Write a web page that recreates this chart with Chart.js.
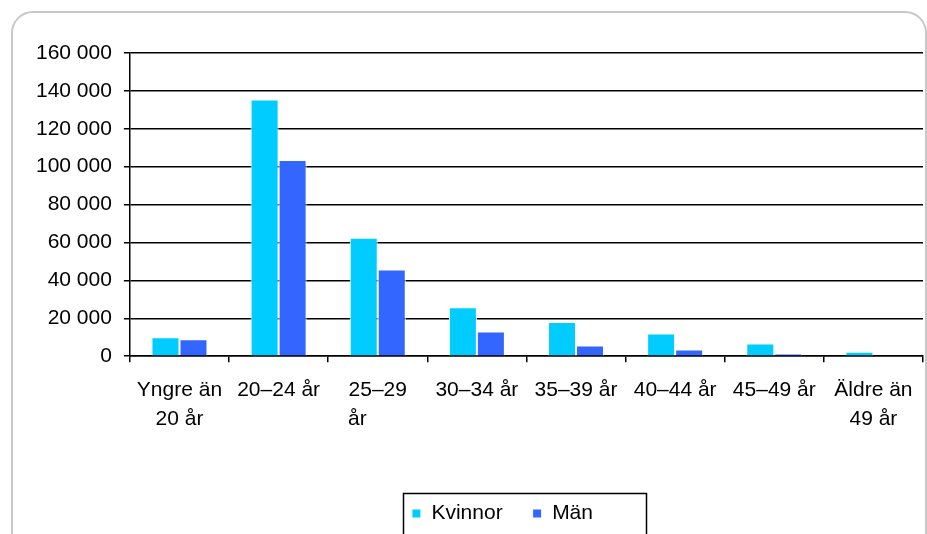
<!DOCTYPE html>
<html>
<head>
<meta charset="utf-8">
<script src="https://cdn.jsdelivr.net/npm/chart.js@4/dist/chart.umd.min.js"></script>
<style>
  html, body { margin: 0; padding: 0; background: #fff; overflow: hidden; }
  #frame {
    position: absolute; left: 11px; top: 11px; width: 916px; height: 600px;
    border: 2px solid #c8c8c8; border-radius: 22px; box-sizing: border-box;
  }
  #wrap { position: absolute; left: 0; top: 0; width: 927px; height: 534px; }
</style>
</head>
<body>
<div id="frame"></div>
<div id="wrap"><canvas id="agechart" width="927" height="534"></canvas></div>
<script>
// Age groups
var categories = [
    ["Yngre än", "20 år"],
    "20–24 år",
    ["25–29", "år       "],
    "30–34 år",
    "35–39 år",
    "40–44 år",
    "45–49 år",
    ["Äldre än", "49 år"]
];
var kvinnor = [10000, 135400, 62500, 25800, 18000, 12000, 6700, 2300];
var man = [9000, 103600, 45700, 13000, 5600, 3500, 1400, 0];
var yTicks = [0, 20000, 40000, 60000, 80000, 100000, 120000, 140000, 160000];

var FONT = "'Liberation Sans', Arial, sans-serif";

function spaced(v) {
    return String(v).replace(/\B(?=(\d{3})+(?!\d))/g, ' ');
}

// Excel puts the legend items left in a box centred under the plot
var legendShift = {
    id: 'legendShift',
    afterLayout: function (chart) {
        chart.legend.left -= 24;
        chart.legend.right -= 24;
    }
};

// frame around the legend
var legendFrame = {
    id: 'legendFrame',
    afterDraw: function (chart) {
        var boxes = chart.legend.legendHitBoxes;
        if (!boxes || !boxes.length) return;
        var first = boxes[0];
        var ctx = chart.ctx;
        var cy = first.top + first.height / 2;
        ctx.save();
        ctx.strokeStyle = '#000';
        ctx.lineWidth = 1.5;
        ctx.strokeRect(Math.round(first.left - 9) + 0.5, Math.round(cy - 21) + 0.5, 243, 80);
        ctx.restore();
    }
};

var ctx = document.getElementById('agechart').getContext('2d');
var chart = new Chart(ctx, {
    type: 'bar',
    data: {
        labels: categories,
        datasets: [{
            label: "Kvinnor",
            data: kvinnor,
            backgroundColor: '#00ccff',
            borderColor: '#ffffff',
            borderWidth: 1,
            borderSkipped: 'bottom'
        }, {
            label: "Män",
            data: man,
            backgroundColor: '#3366ff',
            borderColor: '#ffffff',
            borderWidth: 1,
            borderSkipped: 'bottom'
        }]
    },
    options: {
        responsive: false,
        animation: false,
        layout: {
            padding: { left: 24, right: 4, top: 53, bottom: 0 }
        },
        datasets: {
            bar: { categoryPercentage: 0.565, barPercentage: 1 }
        },
        scales: {
            x: {
                afterFit: function (scale) { scale.height += 26; },
                grid: {
                    drawOnChartArea: false,
                    drawTicks: true,
                    tickLength: 6,
                    color: '#000',
                    lineWidth: 1.5
                },
                border: { color: '#000', width: 1.5 },
                ticks: {
                    color: '#000',
                    autoSkip: false,
                    maxRotation: 0,
                    padding: 13,
                    font: { family: FONT, size: 21, lineHeight: 1.4 }
                }
            },
            y: {
                min: 0,
                max: 160000,
                afterBuildTicks: function (axis) {
                    axis.ticks = yTicks.map(function (v) { return { value: v }; });
                },
                grid: {
                    color: '#000',
                    lineWidth: 1.5,
                    tickLength: 6
                },
                border: { color: '#000', width: 1.5 },
                ticks: {
                    color: '#000',
                    padding: 12,
                    font: { family: FONT, size: 21 },
                    callback: function (v) { return spaced(v); }
                }
            }
        },
        plugins: {
            legend: {
                position: 'bottom',
                fullSize: false,
                labels: {
                    color: '#000',
                    boxWidth: 9,
                    boxHeight: 9,
                    padding: 30,
                    font: { family: FONT, size: 21 }
                }
            },
            tooltip: { enabled: false }
        }
    },
    plugins: [legendShift, legendFrame]
});
</script>
</body>
</html>
